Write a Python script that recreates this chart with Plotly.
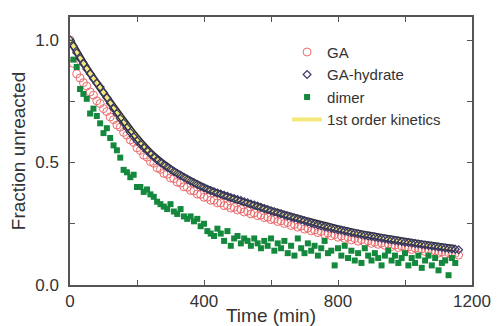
import plotly.graph_objects as go

# ---- data ----
time_ga = list(range(0, 1161, 10))
ga = [1.000, 0.905, 0.862, 0.845, 0.826, 0.812, 0.788, 0.775, 0.752, 0.741,
      0.720, 0.708, 0.686, 0.675, 0.653, 0.644, 0.623, 0.612, 0.592, 0.582,
      0.560, 0.549, 0.530, 0.522, 0.504, 0.497, 0.478, 0.472, 0.456, 0.452,
      0.437, 0.434, 0.420, 0.416, 0.401, 0.399, 0.386, 0.384, 0.371, 0.370,
      0.358, 0.358, 0.346, 0.346, 0.335, 0.335, 0.324, 0.325, 0.314, 0.317,
      0.306, 0.310, 0.298, 0.302, 0.290, 0.294, 0.283, 0.285, 0.275, 0.277,
      0.267, 0.269, 0.259, 0.262, 0.251, 0.255, 0.243, 0.247, 0.236, 0.240,
      0.228, 0.232, 0.221, 0.225, 0.214, 0.219, 0.207, 0.212, 0.201, 0.206,
      0.195, 0.200, 0.190, 0.195, 0.184, 0.190, 0.179, 0.185, 0.174, 0.180,
      0.170, 0.175, 0.166, 0.171, 0.162, 0.167, 0.157, 0.163, 0.153, 0.159,
      0.149, 0.155, 0.145, 0.151, 0.142, 0.147, 0.137, 0.143, 0.134, 0.139,
      0.130, 0.135, 0.126, 0.132, 0.123, 0.129, 0.122]

time_hydrate = list(range(0, 1161, 10))
hydrate = [1.000, 0.975, 0.948, 0.925, 0.903, 0.882, 0.862, 0.842, 0.825, 0.808,
           0.786, 0.764, 0.742, 0.720, 0.700, 0.680, 0.661, 0.642, 0.623, 0.605,
           0.589, 0.575, 0.561, 0.548, 0.535, 0.522, 0.510, 0.500, 0.490, 0.481,
           0.472, 0.463, 0.455, 0.448, 0.440, 0.432, 0.424, 0.417, 0.410, 0.403,
           0.397, 0.391, 0.386, 0.381, 0.376, 0.371, 0.366, 0.362, 0.357, 0.353,
           0.349, 0.345, 0.340, 0.336, 0.331, 0.327, 0.322, 0.317, 0.312, 0.308,
           0.303, 0.299, 0.295, 0.291, 0.286, 0.282, 0.278, 0.274, 0.270, 0.266,
           0.262, 0.257, 0.253, 0.249, 0.245, 0.242, 0.238, 0.235, 0.232, 0.229,
           0.226, 0.223, 0.220, 0.217, 0.214, 0.211, 0.209, 0.206, 0.203, 0.200,
           0.198, 0.196, 0.193, 0.191, 0.189, 0.186, 0.184, 0.182, 0.180, 0.178,
           0.175, 0.173, 0.171, 0.169, 0.167, 0.165, 0.163, 0.161, 0.159, 0.157,
           0.155, 0.153, 0.151, 0.149, 0.147, 0.146, 0.144]

time_dimer = list(range(0, 1151, 10))
dimer = [0.99, 0.92, 0.89, 0.80, 0.78, 0.76, 0.70, 0.72, 0.69, 0.66,
         0.62, 0.64, 0.60, 0.57, 0.55, 0.52, 0.47, 0.46, 0.44, 0.45,
         0.40, 0.40, 0.38, 0.39, 0.37, 0.36, 0.34, 0.33, 0.32, 0.31,
         0.33, 0.30, 0.29, 0.31, 0.28, 0.27, 0.28, 0.26, 0.27, 0.24,
         0.25, 0.22, 0.21, 0.20, 0.23, 0.21, 0.18, 0.22, 0.16, 0.19,
         0.20, 0.17, 0.19, 0.18, 0.16, 0.19, 0.17, 0.15, 0.18, 0.16,
         0.19, 0.14, 0.17, 0.15, 0.18, 0.13, 0.16, 0.12, 0.19, 0.15,
         0.13, 0.17, 0.14, 0.16, 0.12, 0.15, 0.18, 0.13, 0.14, 0.08,
         0.15, 0.12, 0.16, 0.11, 0.14, 0.10, 0.13, 0.09, 0.15, 0.12,
         0.10, 0.13, 0.11, 0.08, 0.12, 0.14, 0.10, 0.12, 0.09, 0.11,
         0.13, 0.08, 0.11, 0.09, 0.12, 0.07, 0.10, 0.12, 0.08, 0.11,
         0.06, 0.09, 0.10, 0.04, 0.11, 0.09]

time_fit = list(range(0, 1151, 50))
fit = [1.000, 0.885, 0.785, 0.690, 0.600, 0.527, 0.474, 0.433, 0.398, 0.370,
       0.347, 0.325, 0.304, 0.284, 0.265, 0.247, 0.230, 0.215, 0.202, 0.190,
       0.179, 0.168, 0.158, 0.149]

x_ticks = [0, 400, 800, 1200]
x_minor = [200, 600, 1000]
y_ticks = [0.0, 0.5, 1.0]
y_tick_labels = ["0.0", "0.5", "1.0"]
y_minor = [0.25, 0.75]

# ---- figure ----
fig = go.Figure()
fig.add_trace(go.Scatter(x=time_ga, y=ga, mode="markers", name="GA",
                         marker=dict(symbol="circle-open", size=8,
                                     color="#ec6b6b", line=dict(width=1))))
fig.add_trace(go.Scatter(x=time_dimer, y=dimer, mode="markers", name="dimer",
                         marker=dict(symbol="square", size=6, color="#14883c")))
fig.add_trace(go.Scatter(x=time_fit, y=fit, mode="lines", showlegend=False,
                         line=dict(color="#2a2a2a", width=7, shape="spline"),
                         hoverinfo="skip"))
fig.add_trace(go.Scatter(x=time_fit, y=fit, mode="lines", name="1st order kinetics",
                         line=dict(color="#f3e97a", width=4, shape="spline")))
fig.add_trace(go.Scatter(x=time_hydrate, y=hydrate, mode="markers", name="GA-hydrate",
                         marker=dict(symbol="diamond-open", size=6,
                                     color="#3a3a66", line=dict(width=1.2))))

fig.update_layout(
    width=497, height=326,
    margin=dict(l=70, r=25, t=17, b=41),
    paper_bgcolor="white", plot_bgcolor="white",
    font=dict(family="Liberation Sans, Arial, sans-serif", size=17, color="#333"),
    legend=dict(x=0.54, y=0.93, xanchor="left", yanchor="top",
                bgcolor="rgba(0,0,0,0)", font=dict(size=15, color="#333"),
                traceorder="normal", itemsizing="trace", itemwidth=30),
    showlegend=True,
)
axis_common = dict(showline=True, linecolor="#555", linewidth=1.5, mirror="ticks",
                   ticks="inside", ticklen=5, tickcolor="#555", tickwidth=1.2,
                   showgrid=False, zeroline=False, automargin=False)
fig.update_xaxes(range=[0, 1200], tickvals=x_ticks,
                 minor=dict(tickvals=x_minor, ticks="inside", ticklen=5,
                            tickcolor="#555", tickwidth=1.2),
                 ticklabelstandoff=0,
                 title=dict(text="Time (min)", font=dict(size=19), standoff=0),
                 **axis_common)
fig.update_yaxes(range=[0, 1.094], tickvals=y_ticks, ticktext=y_tick_labels,
                 minor=dict(tickvals=y_minor, ticks="inside", ticklen=5,
                            tickcolor="#555", tickwidth=1.2),
                 ticklabelstandoff=6,
                 title=dict(text="Fraction unreacted", font=dict(size=19), standoff=5),
                 **axis_common)

# legend order: GA, GA-hydrate, dimer, 1st order kinetics
fig.data[0].legendrank = 1
fig.data[4].legendrank = 2
fig.data[1].legendrank = 3
fig.data[3].legendrank = 4

fig.write_html("out.html")
